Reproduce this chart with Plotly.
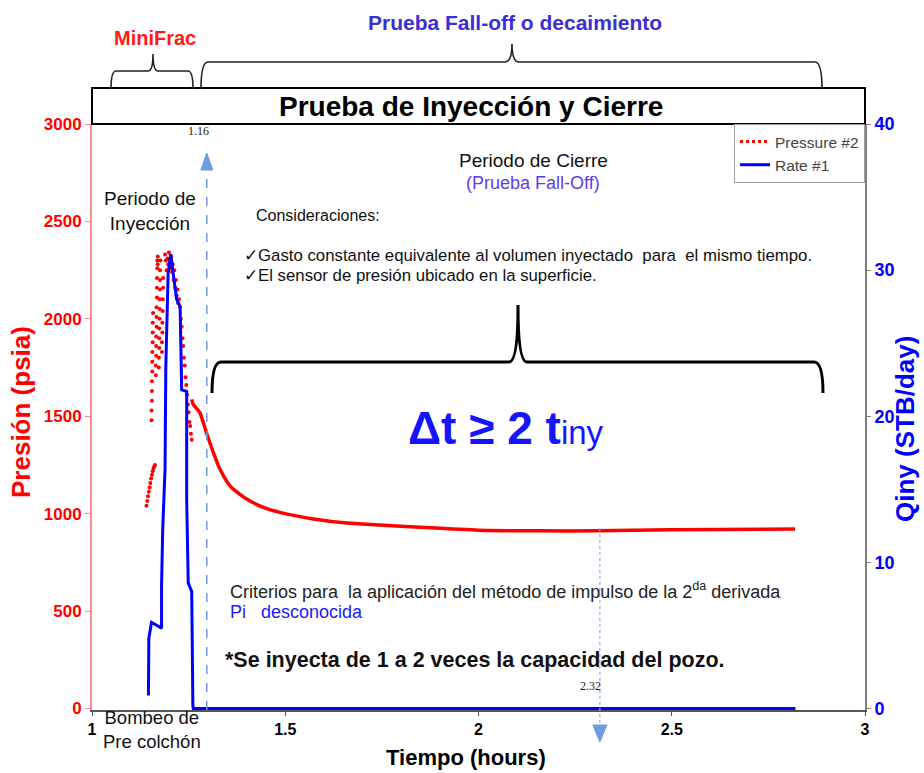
import plotly.graph_objects as go

# ---------------- data ----------------
# Rate #1 (STB/day) vs time (hours)
rate_time = [1.146, 1.147, 1.154, 1.172, 1.180, 1.180, 1.183, 1.189, 1.191, 1.197, 1.204,
             1.210, 1.219, 1.228, 1.232, 1.245, 1.245, 1.249, 1.258, 1.261, 1.262, 2.820]
rate_q = [0.9, 4.8, 5.9, 5.6, 5.5, 8.4, 12.3, 16.4, 23.4, 29.8, 31.1,
          29.8, 28.0, 27.5, 21.8, 21.7, 14.3, 8.6, 8.0, 0.2, 0.0, 0.0]

# Pressure #2 during injection (scattered gauge readings, psia)
inj_time = [1.141, 1.143, 1.145, 1.147, 1.149, 1.151, 1.153, 1.155, 1.157, 1.159, 1.161, 1.163,
            1.154, 1.154, 1.155, 1.155, 1.155, 1.156, 1.156, 1.156, 1.157, 1.157, 1.157, 1.158,
            1.165, 1.165, 1.166, 1.166, 1.166, 1.167, 1.167, 1.167, 1.168, 1.168, 1.168, 1.169,
            1.169, 1.170, 1.170,
            1.173, 1.173, 1.174, 1.174, 1.174, 1.175, 1.175, 1.175, 1.176, 1.176, 1.176, 1.177,
            1.181, 1.181, 1.182, 1.182, 1.183, 1.183, 1.184, 1.184,
            1.189, 1.191, 1.193, 1.195, 1.197, 1.199, 1.201, 1.203, 1.205, 1.207, 1.209, 1.211,
            1.213, 1.215, 1.217, 1.219, 1.221, 1.223, 1.225,
            1.228, 1.230, 1.232, 1.234, 1.236, 1.238, 1.240, 1.242, 1.244, 1.246, 1.248, 1.250,
            1.252, 1.254, 1.256, 1.258]
inj_p = [1041, 1065, 1090, 1112, 1135, 1158, 1180, 1200, 1218, 1232, 1242, 1250,
         1480, 1530, 1580, 1630, 1680, 1730, 1780, 1830, 1880, 1930, 1980, 2030,
         1710, 1760, 1810, 1860, 1910, 1960, 2010, 2060, 2110, 2160, 2210, 2260,
         2300, 2320, 2280,
         1750, 1800, 1850, 1900, 1950, 2000, 2050, 2100, 2150, 2200, 2250, 2300,
         1830, 1880, 1930, 1980, 2040, 2100, 2160, 2210,
         2330, 2300, 2250, 2310, 2280, 2340, 2300, 2260, 2320, 2240, 2280, 2200,
         2250, 2160, 2200, 2120, 2150, 2080, 2100,
         2060, 2000, 1960, 1900, 1860, 1800, 1760, 1700, 1660, 1610, 1560, 1520,
         1470, 1450, 1410, 1380]

# Pressure #2 during shut-in (fall-off)
fall_time = [1.258, 1.262, 1.279, 1.297, 1.314, 1.331, 1.357, 1.400, 1.443, 1.486,
             1.573, 1.659, 1.745, 1.849, 2.000, 2.159, 2.301, 2.500, 2.819]
fall_p = [1587, 1561, 1519, 1410, 1314, 1229, 1143, 1075, 1033, 1007,
          973, 952, 942, 930, 915, 912, 912, 917, 921]

x_ticks = [1, 1.5, 2, 2.5, 3]
x_ticktext = ["1", "1.5", "2", "2.5", "3"]
p_ticks = [0, 500, 1000, 1500, 2000, 2500, 3000]
q_ticks = [0, 10, 20, 30, 40]
marker_times = [1.297, 2.314]
marker_labels = ["1.16", "2.32"]

# ---------------- geometry helpers (decoration only) ----------------
W, H = 924, 773
L, R, T, B = 92, 59, 124, 63
PW, PH = W - L - R, H - T - B


def px(xp):
    return (xp - L) / PW


def py(yp):
    return (H - B - yp) / PH


def path(points_cmds):
    out = []
    for cmd, pts in points_cmds:
        coords = " ".join(f"{px(a):.5f},{py(b):.5f}" for a, b in pts)
        out.append(f"{cmd} {coords}")
    return " ".join(out)


def brace(x0, x1, xm, yb, yh, yt, r=6):
    # curly brace opening downward, tip upward at xm
    return path([
        ("M", [(x0, yb)]),
        ("Q", [(x0, yh), (x0 + r, yh)]),
        ("L", [(xm - r, yh)]),
        ("Q", [(xm, yh), (xm, yt)]),
        ("Q", [(xm, yh), (xm + r, yh)]),
        ("L", [(x1 - r, yh)]),
        ("Q", [(x1, yh), (x1, yb)]),
    ])


FONT = "Liberation Sans, Arial, sans-serif"

fig = go.Figure()

fig.add_trace(go.Scatter(
    x=inj_time, y=inj_p, mode="markers", yaxis="y",
    marker=dict(color="#ff0000", size=4), showlegend=False, hoverinfo="skip"))
fig.add_trace(go.Scatter(
    x=fall_time, y=fall_p, mode="lines", yaxis="y",
    line=dict(color="#ff0000", width=3.5, shape="spline", smoothing=0.6),
    showlegend=False))
fig.add_trace(go.Scatter(
    x=[None], y=[None], mode="lines", name="Pressure #2",
    line=dict(color="#ff0000", width=3, dash="dot")))
fig.add_trace(go.Scatter(
    x=rate_time, y=rate_q, mode="lines", name="Rate #1", yaxis="y2",
    line=dict(color="#0000ff", width=3)))

shapes = []
# title box
shapes.append(dict(type="rect", xref="paper", yref="paper",
                   x0=px(92), x1=px(865), y0=py(124), y1=py(88),
                   line=dict(color="black", width=2), fillcolor="white", layer="above"))
# top braces
shapes.append(dict(type="path", xref="paper", yref="paper",
                   path=brace(111, 193, 153, 89, 71, 54, r=5),
                   line=dict(color="#222", width=1.6)))
shapes.append(dict(type="path", xref="paper", yref="paper",
                   path=brace(201, 822, 512, 89, 62, 44, r=7),
                   line=dict(color="#222", width=1.6)))
# big brace inside plot
shapes.append(dict(type="path", xref="paper", yref="paper",
                   path=brace(212, 823, 518, 393, 362, 305, r=9),
                   line=dict(color="black", width=3)))
# vertical dashed markers
x1p = (marker_times[0] - 1) / 2
x2p = (marker_times[1] - 1) / 2
shapes.append(dict(type="line", xref="paper", yref="paper",
                   x0=x1p, x1=x1p, y0=0, y1=py(168),
                   line=dict(color="#6f9be0", width=1.5, dash="dash")))
shapes.append(dict(type="path", xref="paper", yref="paper",
                   path=f"M {x1p - 6/PW:.5f},{py(170):.5f} L {x1p + 6/PW:.5f},{py(170):.5f} L {x1p:.5f},{py(153):.5f} Z",
                   fillcolor="#6f9be0", line=dict(color="#6f9be0", width=1)))
shapes.append(dict(type="line", xref="paper", yref="paper",
                   x0=x2p, x1=x2p, y0=py(528), y1=py(727),
                   line=dict(color="#8fb0e8", width=1.2, dash="dot")))
shapes.append(dict(type="path", xref="paper", yref="paper",
                   path=f"M {x2p - 7/PW:.5f},{py(725):.5f} L {x2p + 7/PW:.5f},{py(725):.5f} L {x2p:.5f},{py(742):.5f} Z",
                   fillcolor="#6f9be0", line=dict(color="#6f9be0", width=1)))


def ann(text, xp, yp, size, color="black", bold=False, xanchor="center", yanchor="middle",
        family=FONT, align="center", angle=0):
    t = f"<b>{text}</b>" if bold else text
    return dict(text=t, x=px(xp), y=py(yp), xref="paper", yref="paper",
                showarrow=False, xanchor=xanchor, yanchor=yanchor, align=align,
                textangle=angle, font=dict(size=size, color=color, family=family))


annotations = [
    ann("MiniFrac", 155, 38, 20, color="#ff1a1a", bold=True),
    ann("Prueba Fall-off o decaimiento", 515, 22, 21, color="#3b2fd6", bold=True),
    ann("Prueba de Inyección y Cierre", 471, 106, 28, bold=True),
    ann(marker_labels[0], 198, 131, 12, color="#222", family="Liberation Serif, Times New Roman, serif"),
    ann(marker_labels[1], 590, 686, 12, color="#222", family="Liberation Serif, Times New Roman, serif"),
    ann("Periodo de Cierre", 533, 160, 19, color="#111"),
    ann("(Prueba Fall-Off)", 533, 183, 18, color="#5b3df0"),
    ann("Consideraciones:", 254, 215, 16, color="#111", xanchor="left"),
    ann("✓Gasto constante equivalente al volumen inyectado  para  el mismo tiempo.",
        242, 255, 16.8, color="#111", xanchor="left"),
    ann("✓El sensor de presión ubicado en la superficie.", 242, 275, 16.8, color="#111", xanchor="left"),
    ann("Periodo de<br>Inyección", 150, 211, 19, color="#111"),
    ann("<b>Δt ≥ 2 t</b><span style='font-size:33px'>iny</span>", 506, 428, 46, color="#1414ff"),
    ann("Criterios para  la aplicación del método de impulso de la 2<sup>da</sup> derivada",
        228, 590, 18, color="#222", xanchor="left"),
    ann("Pi   desconocida", 228, 612, 18, color="#1a1aff", xanchor="left"),
    ann("*Se inyecta de 1 a 2 veces la capacidad del pozo.", 223, 660, 21.5, color="#111",
        bold=True, xanchor="left"),
    ann("Bombeo de<br>Pre colchón", 152, 729, 18.5, color="#111"),
    ann("Tiempo (hours)", 466, 757, 22, bold=True),
    ann("Presión (psia)", 21, 412, 26, color="#ff0000", bold=True, angle=-90),
    ann("Qiny (STB/day)", 905, 429, 26, color="#0000ff", bold=True, angle=-90),
]

fig.update_layout(
    width=W, height=H,
    margin=dict(l=L, r=R, t=T, b=B, pad=0),
    paper_bgcolor="white", plot_bgcolor="white",
    font=dict(family=FONT),
    showlegend=True,
    legend=dict(x=1, xanchor="right", y=1, yanchor="top", bgcolor="white",
                bordercolor="#a0a0a0", borderwidth=1,
                font=dict(size=15.5, color="#444", family=FONT),
                tracegroupgap=0, itemwidth=30),
    xaxis=dict(range=[1, 3], tickvals=x_ticks, ticktext=x_ticktext, showgrid=False,
               zeroline=False, showline=True, linecolor="#555", linewidth=2,
               ticks="outside", ticklen=4, tickcolor="#555",
               tickfont=dict(size=16, color="black", family=FONT, weight="bold")),
    yaxis=dict(range=[-7.5, 3000], tickvals=p_ticks, showgrid=False, zeroline=False,
               showline=True, linecolor="#ff8a8a", linewidth=2, ticks="outside",
               ticklen=5, tickcolor="#ff8a8a",
               tickfont=dict(size=17, color="#ff0000", family=FONT, weight="bold")),
    yaxis2=dict(range=[-0.1, 40], tickvals=q_ticks, overlaying="y", side="right",
                showgrid=False, zeroline=False, showline=True, linecolor="#808080",
                linewidth=2, ticks="outside", ticklen=4, tickcolor="#808080",
                tickfont=dict(size=18, color="#0000ff", family=FONT, weight="bold")),
    shapes=shapes,
    annotations=annotations,
)

fig.write_html(
    "out.html",
    config={"displayModeBar": False},
    post_script="document.body.style.margin='0px';document.documentElement.style.overflow='hidden';",
)
